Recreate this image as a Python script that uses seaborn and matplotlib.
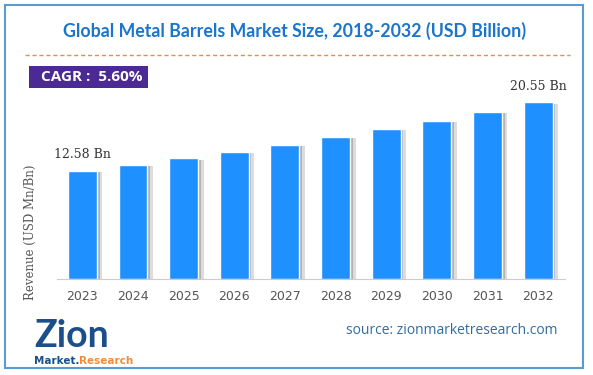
import matplotlib
matplotlib.use('Agg')
import matplotlib.pyplot as plt
import matplotlib.patheffects as pe
from matplotlib.patches import Rectangle
import seaborn as sns
import pandas as pd

# Data
years = ['2023', '2024', '2025', '2026', '2027', '2028', '2029', '2030', '2031', '2032']
revenue = [12.58, 13.28, 14.03, 14.81, 15.64, 16.52, 17.44, 18.42, 19.45, 20.55]
bar_labels = ['12.58 Bn', '', '', '', '', '', '', '', '', '20.55 Bn']

df = pd.DataFrame({'Year': years, 'Revenue': revenue})

sns.set_style('white')
plt.rcParams['font.family'] = ['DejaVu Sans']

W, H = 593, 375
fig = plt.figure(figsize=(W / 100, H / 100), dpi=100)

def fx(px):
    return px / W

def fy(py):
    return 1 - py / H

# outer border
fig.patches.append(Rectangle((fx(5), fy(368)), fx(578), 363 / H, transform=fig.transFigure,
                             fill=False, edgecolor='#5b9bd5', linewidth=1.5))

# title
fig.text(fx(295), fy(31), 'Global Metal Barrels Market Size, 2018-2032 (USD Billion)',
         ha='center', va='center', fontsize=12.8, fontweight='bold', color='#1a75cf',
         family=['Lato', 'DejaVu Sans'])

# dashed separator
fig.add_artist(plt.Line2D([fx(25), fx(570)], [fy(55), fy(55)], transform=fig.transFigure,
                          color='#f08c3c', linestyle=(0, (3, 2)), linewidth=1))

# CAGR box
fig.patches.append(Rectangle((fx(29), fy(88)), fx(119), 22 / H, transform=fig.transFigure,
                             facecolor='#4b2a94', edgecolor='none'))
fig.text(fx(41), fy(77), 'CAGR :  5.60%', ha='left', va='center', fontsize=11,
         fontweight='bold', color='white', family=['Open Sans', 'DejaVu Sans'])

# bar chart
ax = fig.add_axes([fx(57), fy(279), fx(565) - fx(57), fy(95) - fy(279)])
sns.barplot(data=df, x='Year', y='Revenue', color='#1e90ff', saturation=1, width=0.57, ax=ax)
for p in ax.patches:
    p.set_path_effects([pe.SimplePatchShadow(offset=(4, -1), shadow_rgbFace='#777777', alpha=0.25),
                        pe.SimplePatchShadow(offset=(2, -1), shadow_rgbFace='#666666', alpha=0.35),
                        pe.Normal()])

ax.bar_label(ax.containers[0], labels=bar_labels, padding=7, fontsize=9, color='#333333',
             family='DejaVu Serif')

ax.set_ylim(0, 21.4)
ax.set_xlim(-0.5, 9.53)
ax.set_yticks([])
ax.set_xlabel('')
ax.set_ylabel('')
for s in ['top', 'right', 'left']:
    ax.spines[s].set_visible(False)
ax.spines['bottom'].set_color('#cccccc')
ax.tick_params(axis='x', length=0, labelsize=9, colors='#555555', pad=8)

fig.text(fx(30), fy(232), 'Revenue (USD Mn/Bn)', rotation=90, ha='center', va='center',
         fontsize=8.5, color='#555555', family='DejaVu Serif')

# logo
fig.text(fx(34), fy(336), 'Zion', ha='left', va='center', fontsize=27, fontweight='bold',
         color='#1a4f8b', family=['Lato', 'DejaVu Sans'])
t1 = fig.text(fx(34), fy(361), 'Market.', ha='left', va='center', fontsize=7.5,
              fontweight='bold', color='#1a4f8b')
fig.canvas.draw()
bb = t1.get_window_extent()
fig.text(bb.x1 / (W), fy(361), 'Research', ha='left', va='center', fontsize=7.5,
         fontweight='bold', color='#f08c3c')

# source
fig.text(fx(557), fy(331), 'source: zionmarketresearch.com', ha='right', va='center',
         fontsize=10, color='#2e6da4', family=['Open Sans', 'DejaVu Sans'])

fig.savefig('out.png', dpi=100)
